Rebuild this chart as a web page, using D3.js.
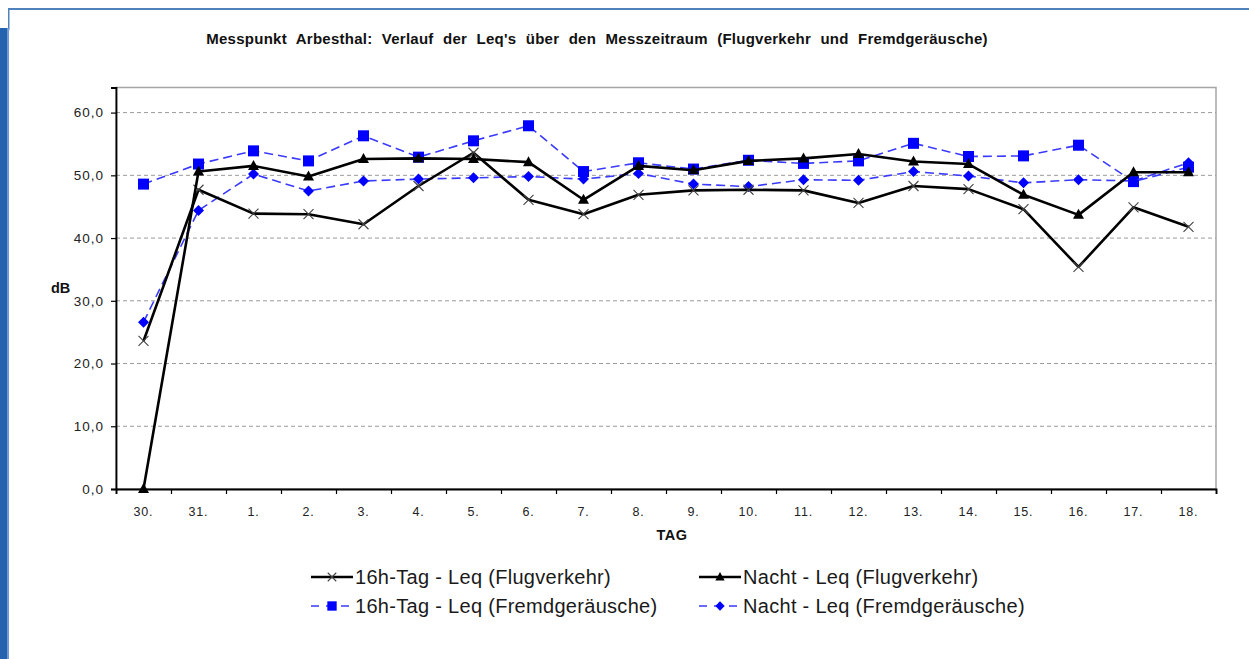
<!DOCTYPE html>
<html>
<head>
<meta charset="utf-8">
<script src="https://cdn.jsdelivr.net/npm/d3@7"></script>
<style>
  body { margin: 0; background: #fff; }
  svg { display: block; font-family: "Liberation Sans", Arial, sans-serif; }
</style>
</head>
<body>
<svg id="chart" width="1249" height="659"></svg>
<script>
// data
const days = ["30.", "31.", "1.", "2.", "3.", "4.", "5.", "6.", "7.", "8.",
              "9.", "10.", "11.", "12.", "13.", "14.", "15.", "16.", "17.", "18."];
const tagFlug    = [23.6, 47.7, 43.9, 43.8, 42.2, 48.3, 53.6, 46.1, 43.8, 46.9,
                    47.6, 47.7, 47.6, 45.6, 48.3, 47.8, 44.6, 35.4, 44.9, 41.8];
const nachtFlug  = [0.0, 50.6, 51.5, 49.8, 52.6, 52.7, 52.6, 52.1, 46.1, 51.5,
                    50.8, 52.3, 52.7, 53.4, 52.2, 51.8, 46.9, 43.7, 50.5, 50.5];
const tagFremd   = [48.6, 51.8, 53.9, 52.3, 56.3, 52.9, 55.5, 57.9, 50.6, 52.0,
                    51.0, 52.4, 51.9, 52.3, 55.1, 53.0, 53.1, 54.8, 49.0, 51.3];
const nachtFremd = [26.6, 44.4, 50.2, 47.5, 49.1, 49.4, 49.6, 49.8, 49.4, 50.3,
                    48.6, 48.2, 49.3, 49.2, 50.6, 49.9, 48.8, 49.3, 49.1, 52.0];
const yTicks = [0, 10, 20, 30, 40, 50, 60];
const seriesNames = ["16h-Tag - Leq (Flugverkehr)", "Nacht - Leq (Flugverkehr)",
                     "16h-Tag - Leq (Fremdgeräusche)", "Nacht - Leq (Fremdgeräusche)"];

const svg = d3.select("#chart");

// window frame around the screenshot
svg.append("rect").attr("x", 8).attr("y", 8).attr("width", 1241).attr("height", 2).attr("fill", "#4f81bd");
svg.append("rect").attr("x", 8).attr("y", 8).attr("width", 1.5).attr("height", 22).attr("fill", "#4f81bd");
svg.append("rect").attr("x", 0).attr("y", 28).attr("width", 7).attr("height", 631).attr("fill", "#2563ae");
svg.append("rect").attr("x", 7).attr("y", 28).attr("width", 2).attr("height", 631).attr("fill", "#6f9ad6");

const plotL = 116, plotR = 1216, plotT = 87.5, plotB = 489;

const x = d3.scaleBand().domain(days).range([plotL, plotR]);
const xEdge = d3.scaleLinear().domain([0, days.length]).range([plotL, plotR]);
const y = d3.scaleLinear().domain([0, 64]).range([plotB, plotT]);
const cx = d => x(d) + x.bandwidth() / 2;

// title
svg.append("text")
  .attr("x", 597).attr("y", 43.5)
  .attr("text-anchor", "middle")
  .attr("font-size", 15).attr("font-weight", "bold")
  .attr("letter-spacing", "0.25px")
  .attr("word-spacing", "5px")
  .attr("fill", "#111")
  .text("Messpunkt Arbesthal: Verlauf der Leq's über den Messzeitraum (Flugverkehr und Fremdgeräusche)");

// plot frame
svg.append("rect")
  .attr("x", plotL).attr("y", plotT)
  .attr("width", plotR - plotL).attr("height", plotB - plotT)
  .attr("fill", "none").attr("stroke", "#a6a6a6").attr("stroke-width", 1.5);

// grid lines
svg.append("g")
  .selectAll("line")
  .data(yTicks.filter(d => d > 0))
  .join("line")
    .attr("x1", plotL).attr("x2", plotR)
    .attr("y1", d => y(d)).attr("y2", d => y(d))
    .attr("stroke", "#9a9a9a").attr("stroke-width", 1)
    .attr("stroke-dasharray", "4,3");

// y axis
const yAxis = svg.append("g")
  .attr("transform", `translate(${plotL},0)`)
  .call(d3.axisLeft(y).tickValues(yTicks).tickSize(5).tickPadding(7)
    .tickFormat(d => d3.format(".1f")(d).replace(".", ",")));
yAxis.select(".domain").attr("stroke", "#000").attr("stroke-width", 1.8);
yAxis.selectAll(".tick line").attr("stroke", "#000").attr("stroke-width", 1.2);
yAxis.selectAll("text").attr("font-size", 13.5).attr("fill", "#222")
  .attr("letter-spacing", "1px")
  .attr("font-family", "Liberation Sans, Arial, sans-serif");

// x axis: labels in band centres, ticks on band edges
const xAxis = svg.append("g")
  .attr("transform", `translate(0,${plotB})`)
  .call(d3.axisBottom(x).tickSize(0).tickPadding(18));
xAxis.select(".domain").remove();
xAxis.selectAll("text").attr("font-size", 12.5).attr("fill", "#222")
  .attr("letter-spacing", "0.8px")
  .attr("font-family", "Liberation Sans, Arial, sans-serif");

const xTicks = svg.append("g")
  .attr("transform", `translate(0,${plotB})`)
  .call(d3.axisBottom(xEdge).tickValues(d3.range(days.length + 1)).tickSize(5).tickFormat(""));
xTicks.select(".domain").attr("stroke", "#000").attr("stroke-width", 1.8);
xTicks.selectAll(".tick line").attr("stroke", "#000").attr("stroke-width", 1.2);

// axis titles
svg.append("text").attr("x", 51).attr("y", 293)
  .attr("font-size", 14.5).attr("font-weight", "bold").attr("fill", "#111").text("dB");
svg.append("text").attr("x", 672).attr("y", 540).attr("text-anchor", "middle")
  .attr("font-size", 14.5).attr("font-weight", "bold").attr("letter-spacing", "0.5px")
  .attr("fill", "#111").text("TAG");

// series
const series = [
  {name: seriesNames[2], values: tagFremd,   color: "#3a3aff", width: 1.6, dash: "9,5", marker: "square"},
  {name: seriesNames[3], values: nachtFremd, color: "#3a3aff", width: 1.6, dash: "9,5", marker: "diamond"},
  {name: seriesNames[0], values: tagFlug,    color: "#000",    width: 2.6, dash: null,  marker: "cross"},
  {name: seriesNames[1], values: nachtFlug,  color: "#000",    width: 2.6, dash: null,  marker: "triangle"}
];

const line = d3.line().x(d => cx(d.day)).y(d => y(d.v));

function drawMarker(g, type, px, py, k = 1) {
  if (type === "square") {
    const h = 5.5 * k;
    g.append("rect").attr("x", px - h).attr("y", py - h).attr("width", 2 * h).attr("height", 2 * h)
      .attr("fill", "#0000ff");
  } else if (type === "diamond") {
    const h = 5.5 * k;
    g.append("path").attr("d", `M${px},${py - h}L${px + h},${py}L${px},${py + h}L${px - h},${py}Z`)
      .attr("fill", "#0000ff");
  } else if (type === "triangle") {
    g.append("path").attr("d", `M${px},${py - 6 * k}L${px + 5.5 * k},${py + 4 * k}L${px - 5.5 * k},${py + 4 * k}Z`)
      .attr("fill", "#000");
  } else if (type === "cross") {
    const h = 5 * k;
    g.append("path").attr("d", `M${px - h},${py - h}L${px + h},${py + h}M${px - h},${py + h}L${px + h},${py - h}`)
      .attr("stroke", "#444").attr("stroke-width", 1.1).attr("fill", "none");
  }
}

for (const s of series) {
  const pts = s.values.map((v, i) => ({day: days[i], v}));
  svg.append("path")
    .datum(pts)
    .attr("d", line)
    .attr("fill", "none")
    .attr("stroke", s.color)
    .attr("stroke-width", s.width)
    .attr("stroke-linejoin", "round")
    .attr("stroke-dasharray", s.dash);
  const mg = svg.append("g");
  pts.forEach(p => drawMarker(mg, s.marker, cx(p.day), y(p.v)));
}

// legend
const legendItems = [
  {s: series[2], lx: 311, ly: 577},
  {s: series[3], lx: 699, ly: 577},
  {s: series[0], lx: 311, ly: 606},
  {s: series[1], lx: 699, ly: 606}
];
for (const it of legendItems) {
  const g = svg.append("g");
  g.append("line")
    .attr("x1", it.lx).attr("x2", it.lx + 42)
    .attr("y1", it.ly).attr("y2", it.ly)
    .attr("stroke", it.s.color).attr("stroke-width", it.s.width)
    .attr("stroke-dasharray", it.s.dash ? "8,7" : null);
  drawMarker(g, it.s.marker, it.lx + 21, it.ly, 0.85);
  g.append("text")
    .attr("x", it.lx + 44).attr("y", it.ly).attr("dy", "0.36em")
    .attr("font-size", 20).attr("letter-spacing", "0.3px").attr("fill", "#1a1a1a")
    .text(it.s.name);
}
</script>
</body>
</html>
